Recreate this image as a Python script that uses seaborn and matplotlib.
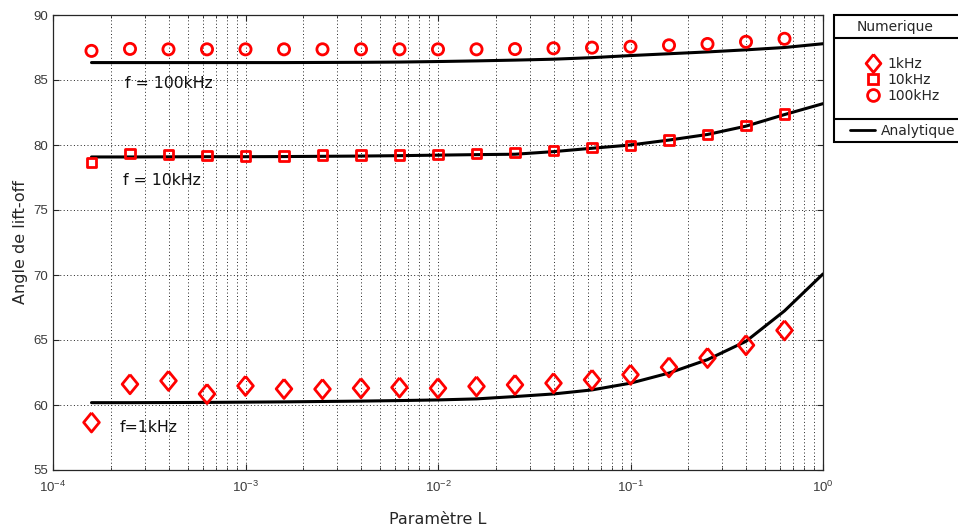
import numpy as np
import pandas as pd
import matplotlib
matplotlib.use("Agg")
import matplotlib.pyplot as plt
from matplotlib.lines import Line2D
from matplotlib.patches import Rectangle
import seaborn as sns

# ---------------- data ----------------
exp_num = [-3.8, -3.6, -3.4, -3.2, -3.0, -2.8, -2.6, -2.4, -2.2, -2.0,
           -1.8, -1.6, -1.4, -1.2, -1.0, -0.8, -0.6, -0.4, -0.2]
L_num = [10 ** e for e in exp_num]
num_1k = [58.66, 61.60, 61.86, 60.85, 61.47, 61.24, 61.22, 61.29, 61.35, 61.29,
          61.43, 61.55, 61.68, 61.94, 62.33, 62.90, 63.62, 64.60, 65.74]
num_10k = [78.68, 79.37, 79.29, 79.19, 79.16, 79.16, 79.24, 79.24, 79.24, 79.29,
           79.34, 79.41, 79.57, 79.79, 79.98, 80.38, 80.81, 81.50, 82.38]
num_100k = [87.24, 87.39, 87.36, 87.36, 87.36, 87.36, 87.36, 87.36, 87.36, 87.36,
            87.36, 87.38, 87.44, 87.49, 87.56, 87.67, 87.77, 87.94, 88.17]

exp_ana = exp_num + [0.0]
L_ana = [10 ** e for e in exp_ana]
ana_1k = [60.18, 60.18, 60.19, 60.20, 60.22, 60.24, 60.27, 60.30, 60.34, 60.39,
          60.47, 60.65, 60.85, 61.16, 61.68, 62.46, 63.49, 64.90, 67.24, 70.08]
ana_10k = [79.08, 79.08, 79.09, 79.10, 79.10, 79.11, 79.13, 79.15, 79.18, 79.22,
           79.26, 79.29, 79.49, 79.75, 80.00, 80.38, 80.81, 81.45, 82.34, 83.18]
ana_100k = [86.34, 86.34, 86.34, 86.34, 86.34, 86.34, 86.35, 86.36, 86.38, 86.42,
            86.47, 86.53, 86.60, 86.72, 86.88, 87.02, 87.16, 87.32, 87.50, 87.79]

labels_num = ["1kHz", "10kHz", "100kHz"]
label_ana = "Analytique"
legend_title = "Numerique"
annotations = [("f = 100kHz", 2.37e-4, 84.75), ("f = 10kHz", 2.31e-4, 77.25), ("f=1kHz", 2.23e-4, 58.3)]

# ---------------- figure ----------------
sns.set_style("ticks")
plt.rcParams['font.family'] = ['DejaVu Sans']

W, H = 958, 525
fig = plt.figure(figsize=(W / 100, H / 100), dpi=100)
ax = fig.add_axes([53 / W, 1 - 470 / H, (823 - 53) / W, (470 - 15) / H])

red = "#ff0000"
for vals in (ana_1k, ana_10k, ana_100k):
    sns.lineplot(x=L_ana, y=vals, ax=ax, color="black", lw=2.2, zorder=3)

diamond = [(0, 1), (0.82, 0), (0, -1), (-0.82, 0), (0, 1)]
markers = [diamond, "s", "o"]
sizes = [190, 45, 65]
for vals, m, s in zip((num_1k, num_10k, num_100k), markers, sizes):
    sns.scatterplot(x=L_num, y=vals, ax=ax, marker=m, s=s, facecolors="none",
                    edgecolor=red, linewidth=2.0, zorder=4)

ax.set_xscale("log")
ax.set_xlim(1e-4, 1)
ax.set_ylim(55, 90)
ax.set_yticks(np.arange(55, 91, 5))

ax.grid(True, which="major", axis="both", color="#222222", linestyle=(0, (1, 2.5)), lw=0.7)
ax.grid(True, which="minor", axis="x", color="#222222", linestyle=(0, (1, 2.5)), lw=0.7)

ax.tick_params(which="both", direction="in", top=True, right=True, colors="#262626",
               labelcolor="#3a3a3a", labelsize=9.5)
ax.tick_params(which="major", length=4)
ax.tick_params(which="minor", length=2)
ax.tick_params(axis="x", which="major", pad=7)
for lab in ax.get_xticklabels() + ax.get_yticklabels():
    lab.set_family(["Liberation Sans", "DejaVu Sans"])
for sp in ax.spines.values():
    sp.set_color("#262626")
    sp.set_linewidth(0.9)

ax.set_xlabel("Paramètre L", fontsize=11.5, labelpad=12)
ax.set_ylabel("Angle de lift-off", fontsize=11.5, labelpad=4)

for txt, xx, yy in annotations:
    ax.text(xx, yy, txt, fontsize=11.3, ha="left", va="center", color="#111111")

# ---------------- legend box (MATLAB style) ----------------
x0, x1 = 834 / W, 1.05
def fy(p):
    return 1 - p / H
fig.patches.append(Rectangle((x0, fy(142)), x1 - x0, fy(15) - fy(142),
                             transform=fig.transFigure, fill=True, facecolor="white",
                             edgecolor="black", lw=1.5))
for yy in (38, 119):
    fig.lines.append(Line2D([x0, x1], [fy(yy), fy(yy)], transform=fig.transFigure,
                            color="black", lw=1.5))
fig.text(895 / W, fy(26.5), legend_title, ha="center", va="center", fontsize=10)

handles = [Line2D([], [], ls="none", marker=m, markerfacecolor="none", markeredgecolor=red,
                  markeredgewidth=2, markersize=ms)
           for m, ms in zip([diamond, "s", "o"], [13, 7, 8.5])]
leg1 = fig.legend(handles, labels_num, loc="center", bbox_to_anchor=(903 / W, fy(80)),
                  frameon=False, fontsize=10, handlelength=1.0, handletextpad=0.5,
                  labelspacing=0.15, borderpad=0)
leg2 = fig.legend([Line2D([], [], color="black", lw=2)], [label_ana], loc="center left",
                  bbox_to_anchor=(843 / W, fy(131)), frameon=False, fontsize=10,
                  handlelength=1.8, handletextpad=0.4, borderpad=0)

fig.savefig("out.png", dpi=100)
